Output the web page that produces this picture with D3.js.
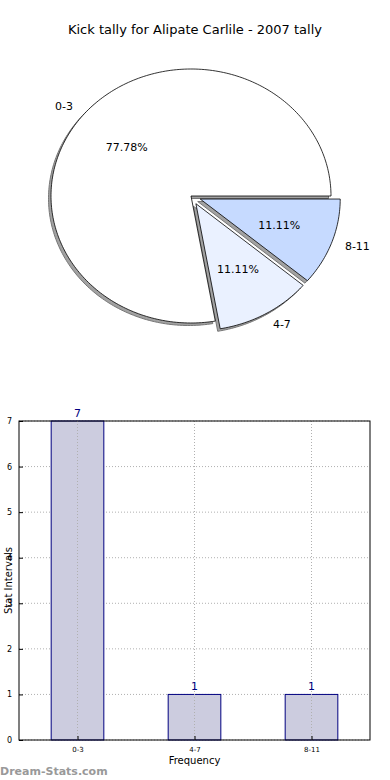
<!DOCTYPE html>
<html>
<head>
<meta charset="utf-8">
<script src="https://cdn.jsdelivr.net/npm/d3@7"></script>
<style>
  body { margin: 0; background: #fff; }
  svg { display: block; font-family: "DejaVu Sans", sans-serif; }
</style>
</head>
<body>
<div id="chart"></div>
<script>
// Kick tally pie + bar chart (matplotlib look)
const title = 'Kick tally for Alipate Carlile - 2007 tally';
const categories = ['0-3', '4-7', '8-11'];
const counts = [7, 1, 1];
const sliceColors = ['#ffffff', '#eaf1ff', '#c6daff'];
const explode = [0, 0.07, 0.07];
const yTicks = [0, 1, 2, 3, 4, 5, 6, 7];

const W = 390, H = 780;
const svg = d3.select('#chart').append('svg').attr('width', W).attr('height', H);

svg.append('text')
  .attr('x', 195).attr('y', 34)
  .attr('text-anchor', 'middle')
  .style('font-size', '13px')
  .text(title);

// ─── Pie (elliptical, matplotlib-style: counterclockwise from east) ───
const cx = 191, cy = 196, rx = 140, ry = 127;
const total = d3.sum(counts);
const pie = d3.pie().sort(null).value(d => d)
  .startAngle(0).endAngle(2 * Math.PI);
const slices = pie(counts);

// matplotlib angle (ccw from east, radians) -> screen point on unit ellipse
const pt = (a, r) => [r * rx * Math.cos(a), -r * ry * Math.sin(a)];

function wedgePath(s) {
  const a0 = s.startAngle, a1 = s.endAngle;
  const n = Math.max(8, Math.ceil((a1 - a0) / 0.02));
  const pts = [[0, 0]];
  for (let k = 0; k <= n; k++) pts.push(pt(a0 + (a1 - a0) * k / n, 1));
  return d3.line()(pts) + 'Z';
}

const pieG = svg.append('g');
const offsets = slices.map((s, i) => {
  const mid = (s.startAngle + s.endAngle) / 2;
  const [ox, oy] = pt(mid, explode[i]);
  return [cx + ox, cy + oy];
});

// shadows behind all wedges (shifted left/down)
slices.forEach((s, i) => {
  pieG.append('path')
    .attr('d', wedgePath(s))
    .attr('transform', `translate(${offsets[i][0] - 2.5},${offsets[i][1] + 2.5})`)
    .attr('fill', '#555')
    .attr('fill-opacity', 0.55)
    .attr('stroke', '#777')
    .attr('stroke-width', 1);
});

slices.forEach((s, i) => {
  pieG.append('path')
    .attr('d', wedgePath(s))
    .attr('transform', `translate(${offsets[i][0]},${offsets[i][1]})`)
    .attr('fill', sliceColors[i])
    .attr('stroke', '#000')
    .attr('stroke-width', 0.8)
    .attr('stroke-linejoin', 'round');
});

slices.forEach((s, i) => {
  const mid = (s.startAngle + s.endAngle) / 2;
  const [lx, ly] = pt(mid, 1.1);
  const [px, py] = pt(mid, 0.6);
  const o = offsets[i];
  pieG.append('text')
    .attr('x', o[0] + lx).attr('y', o[1] + ly)
    .attr('text-anchor', Math.cos(mid) < 0 ? 'end' : 'start')
    .attr('dominant-baseline', 'central')
    .style('font-size', '11px')
    .text(categories[i]);
  pieG.append('text')
    .attr('x', o[0] + px).attr('y', o[1] + py)
    .attr('text-anchor', 'middle')
    .attr('dominant-baseline', 'central')
    .style('font-size', '11px')
    .text((counts[i] / total * 100).toFixed(2) + '%');
});

// ─── Bar chart ───
const m = { left: 19, right: 370, top: 421, bottom: 740 };
const x = d3.scaleLinear().domain([-0.5, categories.length - 0.5]).range([m.left, m.right]);
const y = d3.scaleLinear().domain([0, 7]).range([m.bottom, m.top]);
const barW = 0.45;

const barG = svg.append('g');

// grid
barG.selectAll('.hgrid').data(yTicks).join('line')
  .attr('x1', m.left).attr('x2', m.right)
  .attr('y1', d => y(d)).attr('y2', d => y(d))
  .attr('stroke', '#b0b0b0').attr('stroke-width', 1)
  .attr('stroke-dasharray', '1,2');

barG.selectAll('.bar').data(counts).join('rect')
  .attr('x', (d, i) => x(i - barW / 2))
  .attr('width', (d, i) => x(i + barW / 2) - x(i - barW / 2))
  .attr('y', d => y(d))
  .attr('height', d => y(0) - y(d))
  .attr('fill', '#ccccdf')
  .attr('stroke', '#000080')
  .attr('stroke-width', 1);

barG.selectAll('.vgrid').data(categories).join('line')
  .attr('x1', (d, i) => x(i)).attr('x2', (d, i) => x(i))
  .attr('y1', m.top).attr('y2', m.bottom)
  .attr('stroke', '#b0b0b0').attr('stroke-width', 1)
  .attr('stroke-dasharray', '1,2');

barG.selectAll('.val').data(counts).join('text')
  .attr('x', (d, i) => x(i)).attr('y', d => y(d) - 4)
  .attr('text-anchor', 'middle')
  .attr('fill', '#000080')
  .style('font-size', '11px')
  .text(d => d);

// axes frame
barG.append('rect')
  .attr('x', m.left).attr('y', m.top)
  .attr('width', m.right - m.left).attr('height', m.bottom - m.top)
  .attr('fill', 'none').attr('stroke', '#000').attr('stroke-width', 1);

const yAxis = d3.axisLeft(y).tickValues(yTicks).tickFormat(d3.format('d'))
  .tickSize(-4).tickPadding(7);
barG.append('g').attr('transform', `translate(${m.left},0)`).call(yAxis)
  .call(g => g.select('.domain').remove())
  .call(g => g.selectAll('text').style('font-size', '8px').attr('font-family', 'DejaVu Sans'));

const xAxis = d3.axisBottom(x).tickValues(d3.range(categories.length))
  .tickFormat(i => categories[i]).tickSize(-4).tickPadding(7);
barG.append('g').attr('transform', `translate(0,${m.bottom})`).call(xAxis)
  .call(g => g.select('.domain').remove())
  .call(g => g.selectAll('text').style('font-size', '7px').attr('font-family', 'DejaVu Sans'));

svg.append('text')
  .attr('x', (m.left + m.right) / 2).attr('y', 764)
  .attr('text-anchor', 'middle')
  .style('font-size', '10px')
  .text('Frequency');

svg.append('text')
  .attr('transform', `translate(8,${(m.top + m.bottom) / 2}) rotate(-90)`)
  .attr('text-anchor', 'middle')
  .attr('dominant-baseline', 'central')
  .style('font-size', '10px')
  .text('Stat Intervals');

svg.append('text')
  .attr('x', 0).attr('y', 775)
  .attr('fill', '#999')
  .style('font-size', '11px')
  .style('font-weight', 'bold')
  .text('Dream-Stats.com');
</script>
</body>
</html>
